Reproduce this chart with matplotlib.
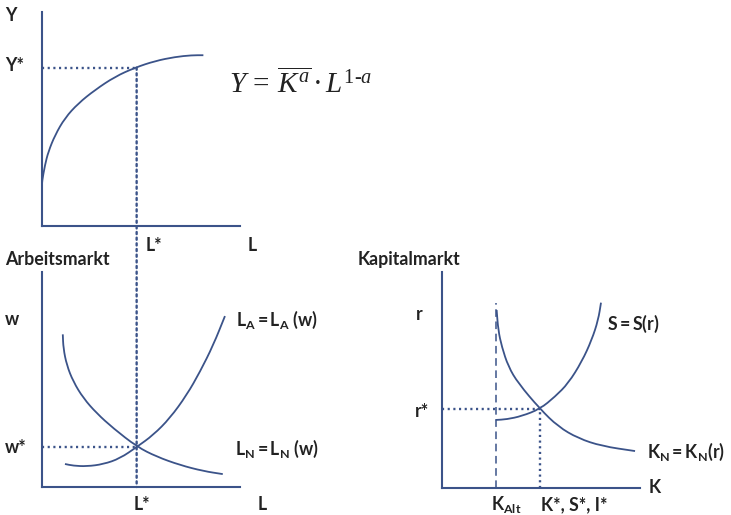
import matplotlib.pyplot as plt
from matplotlib.patches import ConnectionPatch, PathPatch
from matplotlib.path import Path

plt.rcParams['mathtext.fontset'] = 'custom'
plt.rcParams['mathtext.sf'] = 'Lato:bold'
plt.rcParams['mathtext.it'] = 'Liberation Serif:italic'
plt.rcParams['mathtext.rm'] = 'Liberation Serif'

# ----------------------------------------------------------------------
# Data (curves, each panel on a 0..10 scale)
# ----------------------------------------------------------------------
# production function Y = K^a * L^(1-a)
prod_L = [0.0, 0.0, 0.15, 0.32, 0.66, 1.16, 1.83, 2.68, 3.69, 4.70, 5.71, 6.72, 7.56, 8.15]
prod_Y = [1.87, 2.07, 2.85, 3.47, 4.25, 5.05, 5.73, 6.36, 6.98, 7.40, 7.71, 7.90, 7.98, 7.98]
L_star = 4.78
Y_star = 7.40

# labour market
demand_L = [1.05, 1.08, 1.25, 1.58, 2.09, 2.76, 3.60, 4.80, 5.79, 6.97, 8.15, 9.13]
demand_w = [7.10, 6.45, 5.67, 4.90, 4.13, 3.43, 2.73, 1.87, 1.41, 1.02, 0.74, 0.60]
supply_L = [1.16, 1.58, 2.26, 3.10, 3.94, 4.80, 5.62, 6.46, 7.31, 7.98, 8.65, 9.24]
supply_w = [1.07, 0.99, 0.96, 1.06, 1.33, 1.87, 2.42, 3.20, 4.28, 5.36, 6.60, 7.95]
w_star = 1.87

# capital market
saving_K = [2.71, 3.27, 4.03, 4.95, 5.71, 6.38, 7.06, 7.56, 7.89, 8.03]
saving_r = [3.15, 3.18, 3.33, 3.66, 4.23, 4.85, 5.85, 6.85, 7.78, 8.58]
kdem_K = [2.76, 2.84, 3.02, 3.35, 3.85, 4.95, 5.87, 6.88, 8.07, 9.75]
kdem_r = [8.24, 7.31, 6.54, 5.62, 4.85, 3.66, 2.84, 2.30, 1.94, 1.71]
K_alt = 2.71
K_alt_top = 8.58
K_star = 4.95
r_star = 3.66

# ----------------------------------------------------------------------
W, H = 731, 515
fig = plt.figure(figsize=(W / 100, H / 100), dpi=100)

LINE = '#3b5389'
TEXT = '#222222'
DOT = (0, (0.9, 1.5))


def box(left, top, right, bottom):
    return [left / W, 1 - bottom / H, (right - left) / W, (bottom - top) / H]


def at(x, y):
    return x / W, 1 - y / H


def setup(ax):
    ax.set_xlim(0, 10)
    ax.set_ylim(0, 10)
    ax.set_facecolor('none')
    for s in ('top', 'right'):
        ax.spines[s].set_visible(False)
    for s in ('left', 'bottom'):
        ax.spines[s].set_color(LINE)
        ax.spines[s].set_linewidth(1.5)
    ax.set_xticks([])
    ax.set_yticks([])


def curve(ax, xs, ys):
    # smooth quadratic bezier through the midpoints of the read points
    pts = list(zip(xs, ys))
    verts = [pts[0], ((pts[0][0] + pts[1][0]) / 2, (pts[0][1] + pts[1][1]) / 2)]
    codes = [Path.MOVETO, Path.LINETO]
    for i in range(1, len(pts) - 1):
        mid = ((pts[i][0] + pts[i + 1][0]) / 2, (pts[i][1] + pts[i + 1][1]) / 2)
        verts += [pts[i], mid]
        codes += [Path.CURVE3, Path.CURVE3]
    verts.append(pts[-1])
    codes.append(Path.LINETO)
    ax.add_patch(PathPatch(Path(verts, codes), fill=False, edgecolor=LINE,
                           lw=1.3, capstyle='butt'))


ax_top = fig.add_axes(box(42, 12, 240, 226))
ax_lab = fig.add_axes(box(42, 272, 240, 487))
ax_cap = fig.add_axes(box(442, 272, 640, 488))
for a in (ax_top, ax_lab, ax_cap):
    setup(a)

# top: production function
curve(ax_top, prod_L, prod_Y)
ax_top.plot([0, L_star], [Y_star, Y_star], color=LINE, lw=1.7, ls=DOT)

# L* line running down into the labour market panel
con = ConnectionPatch(xyA=(L_star, Y_star), coordsA=ax_top.transData,
                      xyB=(L_star, 0), coordsB=ax_lab.transData,
                      color=LINE, lw=1.7, linestyle=DOT)
fig.add_artist(con)

# labour market
curve(ax_lab, demand_L, demand_w)
curve(ax_lab, supply_L, supply_w)
ax_lab.plot([0, L_star], [w_star, w_star], color=LINE, lw=1.7, ls=DOT)

# capital market
ax_cap.plot([K_alt, K_alt], [0, K_alt_top], color=LINE, lw=1.1, ls=(0, (5, 3)))
curve(ax_cap, saving_K, saving_r)
curve(ax_cap, kdem_K, kdem_r)
ax_cap.plot([0, K_star], [r_star, r_star], color=LINE, lw=1.7, ls=DOT)
ax_cap.plot([K_star, K_star], [0, r_star], color=LINE, lw=1.7, ls=DOT)

# ----------------------------------------------------------------------
# Labels
# ----------------------------------------------------------------------
lab = dict(color=TEXT, fontsize=12.8, fontweight='bold', family='Lato',
           ha='left', va='baseline')

fig.text(*at(5, 21), 'Y', **lab)
fig.text(*at(5, 71), 'Y*', **lab)
fig.text(*at(146, 251), 'L*', **lab)
fig.text(*at(248, 251), 'L', **lab)

fig.text(*at(5, 265), 'Arbeitsmarkt', **lab)
fig.text(*at(5, 325), 'w', **lab)
fig.text(*at(5, 453), 'w*', **lab)
fig.text(*at(134, 510), 'L*', **lab)
fig.text(*at(258, 510), 'L', **lab)
fig.text(*at(236, 326), r'$\mathsf{L_A = L_A\ (w)}$', **lab)
fig.text(*at(235, 455), r'$\mathsf{L_N = L_N\ (w)}$', **lab)

fig.text(*at(358, 265), 'Kapitalmarkt', **lab)
fig.text(*at(416, 320), 'r', **lab)
fig.text(*at(415, 417), 'r*', **lab)
fig.text(*at(607, 330), r'$\mathsf{S = S(r)}$', **lab)
fig.text(*at(647, 458), r'$\mathsf{K_N = K_N(r)}$', **lab)
fig.text(*at(649, 493), 'K', **lab)
fig.text(*at(491, 510), r'$\mathsf{K_{Alt}}$', **lab)
fig.text(*at(541, 510), 'K*, S*, I*', **lab)

# formula
fig.text(*at(229, 93), r'$Y\,=\,\overline{K^a}\,·\,L^{1\text{-}a}$',
         color=TEXT, fontsize=21, ha='left', va='baseline')

plt.savefig('out.png', dpi=100)
